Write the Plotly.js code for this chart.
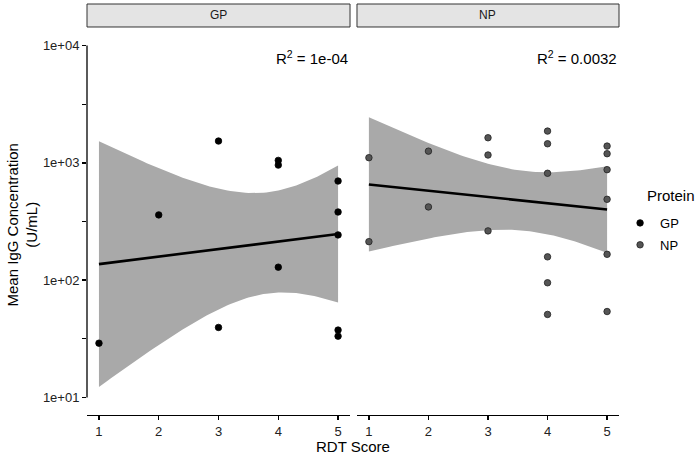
<!DOCTYPE html>
<html><head><meta charset="utf-8">
<script src="https://cdn.plot.ly/plotly-3.0.1.min.js"></script>
<style>html,body{margin:0;padding:0;background:#fff}</style>
</head><body><div id="chart" style="width:700px;height:456px"></div>
<script>
// ---- data ----
const panels = ['GP', 'NP'];
const gpScore = [1, 2, 3, 3, 4, 4, 4, 5, 5, 5, 5, 5];
const gpIgG = [29, 360, 1535, 39.5, 1050, 957, 129, 700, 381, 243, 37.5, 33.3];
const npScore = [1, 1, 2, 2, 3, 3, 3, 4, 4, 4, 4, 4, 4, 5, 5, 5, 5, 5, 5];
const npIgG = [1107, 213, 1259, 421, 1637, 1167, 263, 1866, 1455, 815, 158, 95, 51, 1390, 1197, 875, 489, 166, 54];
const rsqLabels = ['1e-04', '0.0032'];
const xTicks = [1, 2, 3, 4, 5];
const yTickVals = [10, 31.62, 100, 316.2, 1000, 3162, 10000];
const yTickText = ['1e+01', '', '1e+02', '', '1e+03', '', '1e+04'];

// ---- linear model on log10 scale (as geom_smooth(method = "lm")) ----
function lgamma(x) {
  const g = 7, c = [0.99999999999980993, 676.5203681218851, -1259.1392167224028, 771.32342877765313,
    -176.61502916214059, 12.507343278686905, -0.13857109526572012, 9.9843695780195716e-6, 1.5056327351493116e-7];
  if (x < 0.5) return Math.log(Math.PI / Math.sin(Math.PI * x)) - lgamma(1 - x);
  x -= 1; let a = c[0]; const t = x + g + 0.5;
  for (let i = 1; i < 9; i++) a += c[i] / (x + i);
  return 0.5 * Math.log(2 * Math.PI) + (x + 0.5) * Math.log(t) - t + Math.log(a);
}
function tpdf(t, v) {
  return Math.exp(lgamma((v + 1) / 2) - lgamma(v / 2) - 0.5 * Math.log(v * Math.PI) - (v + 1) / 2 * Math.log(1 + t * t / v));
}
function tHalfCdf(t, v) {
  const n = 400, h = t / n; let s = tpdf(0, v) + tpdf(t, v);
  for (let i = 1; i < n; i++) s += (i % 2 ? 4 : 2) * tpdf(i * h, v);
  return s * h / 3;
}
function tQuant(p, v) {
  let lo = 0, hi = 20;
  for (let k = 0; k < 60; k++) { const m = (lo + hi) / 2; if (0.5 + tHalfCdf(m, v) < p) lo = m; else hi = m; }
  return (lo + hi) / 2;
}
function lmFit(xs, ys) {
  const ly = ys.map(v => Math.log10(v)), n = xs.length;
  const mx = xs.reduce((a, b) => a + b, 0) / n, my = ly.reduce((a, b) => a + b, 0) / n;
  let sxx = 0, sxy = 0;
  xs.forEach((x, i) => { sxx += (x - mx) ** 2; sxy += (x - mx) * (ly[i] - my); });
  const b = sxy / sxx, a = my - b * mx;
  let rss = 0; xs.forEach((x, i) => { rss += (ly[i] - a - b * x) ** 2; });
  const s = Math.sqrt(rss / (n - 2)), tc = tQuant(0.975, n - 2);
  const xmin = Math.min(...xs), xmax = Math.max(...xs);
  const gx = [], fit = [], up = [], lo = [];
  const steps = 80;
  for (let k = 0; k <= steps; k++) {
    const x = xmin + (xmax - xmin) * k / steps;
    const f = a + b * x, h = tc * s * Math.sqrt(1 / n + (x - mx) ** 2 / sxx);
    gx.push(x); fit.push(Math.pow(10, f)); up.push(Math.pow(10, f + h)); lo.push(Math.pow(10, f - h));
  }
  return { gx, fit, up, lo };
}

const FONT = 'Liberation Sans, Arial, sans-serif';
const groups = [
  { name: panels[0], xs: gpScore, ys: gpIgG, xa: 'x', color: '#000000', outline: '#000000' },
  { name: panels[1], xs: npScore, ys: npIgG, xa: 'x2', color: '#555555', outline: '#222222' }
];
const bands = [], lines = [], pts = [];
groups.forEach(g => {
  const m = lmFit(g.xs, g.ys);
  bands.push({
    x: m.gx.concat(m.gx.slice().reverse()), y: m.up.concat(m.lo.slice().reverse()),
    xaxis: g.xa, yaxis: 'y', type: 'scatter', mode: 'lines', fill: 'toself',
    fillcolor: '#a9a9a9', line: { width: 0 }, hoverinfo: 'skip', showlegend: false
  });
  lines.push({
    x: m.gx, y: m.fit, xaxis: g.xa, yaxis: 'y', type: 'scatter', mode: 'lines',
    line: { color: '#000', width: 2.6 }, hoverinfo: 'skip', showlegend: false
  });
  pts.push({
    x: g.xs, y: g.ys, xaxis: g.xa, yaxis: 'y', type: 'scatter', mode: 'markers', name: g.name,
    legendgroup: g.name,
    marker: { color: g.color, size: 6.5, line: { color: g.outline, width: 0.8 } }, cliponaxis: false
  });
});
const data = bands.concat(lines).concat(pts);

const axX = {
  range: [0.8, 5.2], anchor: 'y', showline: true, linecolor: '#000', linewidth: 1.3,
  ticks: 'outside', ticklen: 4, tickwidth: 1.3, tickcolor: '#000', tickvals: xTicks,
  tickfont: { family: FONT, size: 13, color: '#222' }, showgrid: false, zeroline: false, fixedrange: true
};
const d1 = [0, 0.4944], d2 = [0.5075, 1];
const stripY0 = 1.0026, stripY1 = 1.062;
const layout = {
  width: 700, height: 456,
  margin: { l: 87, r: 81, t: 28, b: 41, autoexpand: false },
  paper_bgcolor: '#fff', plot_bgcolor: '#fff',
  font: { family: FONT, color: '#000' },
  xaxis: Object.assign({}, axX, { domain: d1 }),
  xaxis2: Object.assign({}, axX, { domain: d2 }),
  yaxis: {
    type: 'log', range: [0.85, 4.15], showline: false, ticks: 'outside', ticklen: 4, tickwidth: 1.3,
    tickcolor: '#000', tickvals: yTickVals, ticktext: yTickText,
    tickfont: { family: FONT, size: 13, color: '#222' }, showgrid: false, zeroline: false, fixedrange: true
  },
  showlegend: true,
  legend: {
    x: 1.002, y: 0.535, xanchor: 'left', yanchor: 'top', bgcolor: 'rgba(0,0,0,0)',
    traceorder: 'grouped', tracegroupgap: 2,
    font: { family: FONT, size: 13, color: '#000' }, itemwidth: 30
  },
  shapes: [
    { type: 'line', xref: 'paper', yref: 'y', x0: 0, x1: 0, y0: 10, y1: 10000, line: { color: '#000', width: 1.3 } },
    { type: 'rect', xref: 'paper', yref: 'paper', x0: d1[0], x1: d1[1], y0: stripY0, y1: stripY1,
      fillcolor: '#e4e4e4', line: { color: '#333', width: 1 } },
    { type: 'rect', xref: 'paper', yref: 'paper', x0: d2[0], x1: d2[1], y0: stripY0, y1: stripY1,
      fillcolor: '#e4e4e4', line: { color: '#333', width: 1 } }
  ],
  annotations: [
    { text: panels[0], xref: 'paper', yref: 'paper', x: (d1[0] + d1[1]) / 2, y: (stripY0 + stripY1) / 2,
      showarrow: false, font: { family: FONT, size: 12, color: '#1a1a1a' }, xanchor: 'center', yanchor: 'middle' },
    { text: panels[1], xref: 'paper', yref: 'paper', x: (d2[0] + d2[1]) / 2, y: (stripY0 + stripY1) / 2,
      showarrow: false, font: { family: FONT, size: 12, color: '#1a1a1a' }, xanchor: 'center', yanchor: 'middle' },
    { text: 'R<sup>2</sup> = ' + rsqLabels[0], xref: 'x', yref: 'paper', x: 5.2, y: 0.925,
      xanchor: 'right', yanchor: 'middle', showarrow: false, font: { family: FONT, size: 15, color: '#000' } },
    { text: 'R<sup>2</sup> = ' + rsqLabels[1], xref: 'x2', yref: 'paper', x: 5.2, y: 0.925,
      xanchor: 'right', yanchor: 'middle', showarrow: false, font: { family: FONT, size: 15, color: '#000' } },
    { text: 'Protein', xref: 'paper', yref: 'paper', x: (645 - 87) / 532, y: (415 - 195) / 387,
      xanchor: 'left', yanchor: 'middle', showarrow: false, font: { family: FONT, size: 15, color: '#000' } },
    { text: 'RDT Score', xref: 'paper', yref: 'paper', x: 0.5, y: -0.082, xanchor: 'center', yanchor: 'middle',
      showarrow: false, font: { family: FONT, size: 15, color: '#000' } },
    { text: 'Mean IgG Concentration<br>(U/mL)', xref: 'paper', yref: 'paper', x: -0.122, y: 0.49,
      xanchor: 'center', yanchor: 'middle', textangle: -90, showarrow: false,
      font: { family: FONT, size: 15, color: '#000' } }
  ]
};
Plotly.newPlot('chart', data, layout, { displayModeBar: false, staticPlot: true });
</script>
</body></html>
